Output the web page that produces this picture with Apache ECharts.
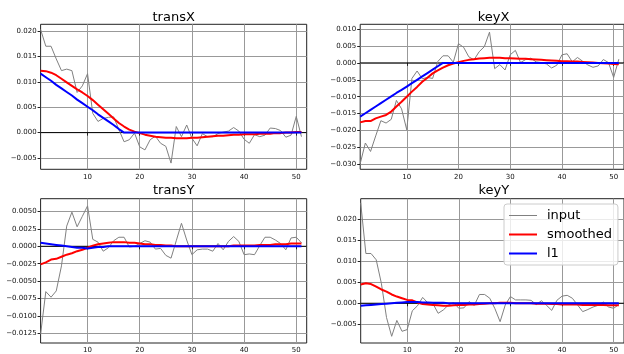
<!DOCTYPE html>
<html><head><meta charset="utf-8">
<script src="https://cdn.jsdelivr.net/npm/echarts@6/dist/echarts.min.js"></script>
<style>html,body{margin:0;padding:0;background:#fff}#c{width:624px;height:354px}</style>
</head><body><div id="c"></div>
<script>
const xs = [1,2,3,4,5,6,7,8,9,10,11,12,13,14,15,16,17,18,19,20,21,22,23,24,25,26,27,28,29,30,31,32,33,34,35,36,37,38,39,40,41,42,43,44,45,46,47,48,49,50,51];

const transXInput = [0.0203,0.0170,0.0170,0.0145,0.0122,0.0125,0.0122,0.0079,0.0092,0.0116,0.0038,0.0022,0.0028,0.0030,0.0031,0.0006,-0.0018,-0.0014,-0.0001,-0.0028,-0.0034,-0.0014,-0.0007,-0.0021,-0.0027,-0.0060,0.0012,-0.0008,0.0015,-0.0011,-0.0026,-0.0002,-0.0008,-0.0008,-0.0002,0.0001,0.0003,0.0010,0.0003,-0.0013,-0.0021,-0.0004,-0.0008,-0.0005,0.0009,0.0008,0.0004,-0.0009,-0.0005,0.0032,-0.0008];
const transXSmoothed = [0.0122,0.0121,0.0118,0.0113,0.0106,0.0099,0.0092,0.0085,0.0079,0.0072,0.0064,0.0055,0.0046,0.0037,0.0028,0.0019,0.0012,0.0006,0.0002,-0.0001,-0.0004,-0.0006,-0.0008,-0.0009,-0.0010,-0.0010,-0.0011,-0.0011,-0.0011,-0.0010,-0.0010,-0.0009,-0.0008,-0.0007,-0.0006,-0.0006,-0.0005,-0.0004,-0.0004,-0.0003,-0.0003,-0.0003,-0.0002,-0.0002,-0.0002,-0.0001,-0.0001,0,0,0.0001,0.0001];
const transXL1 = [0.0116,0.0109,0.0102,0.0094,0.0087,0.0080,0.0073,0.0065,0.0058,0.0051,0.0044,0.0036,0.0029,0.0022,0.0015,0.0007,0,0,0,0,0,0,0,0,0,0,0,0,0,0,0,0,0,0,0,0,0,0,0,0,0,0,0,0,0,0,0,0,0,0,0];

const keyXInput = [-0.0298,-0.0237,-0.0262,-0.0216,-0.0171,-0.0178,-0.0167,-0.0111,-0.0136,-0.0198,-0.0046,-0.0024,-0.0047,-0.0043,-0.0046,0.0004,0.0021,0.0021,0.0002,0.0057,0.0046,0.0018,0.0009,0.0033,0.0048,0.0091,-0.0017,-0.0005,-0.0021,0.0024,0.0037,0.0001,0.0010,0.0014,0.0003,0.0001,-0.0003,-0.0015,-0.0007,0.0024,0.0027,0.0003,0.0016,0.0005,-0.0006,-0.0013,-0.0009,0.0010,0.0001,-0.0043,0.0011];
const keyXSmoothed = [-0.0176,-0.0172,-0.0172,-0.0164,-0.0159,-0.0154,-0.0144,-0.0129,-0.0115,-0.0100,-0.0085,-0.0071,-0.0056,-0.0044,-0.0031,-0.0022,-0.0014,-0.0007,-0.0002,0.0002,0.0006,0.0009,0.0011,0.0013,0.0014,0.0015,0.0015,0.0015,0.0014,0.0014,0.0013,0.0012,0.0012,0.0011,0.0010,0.0009,0.0008,0.0007,0.0006,0.0005,0.0005,0.0004,0.0004,0.0003,0.0002,0.0001,0,-0.0001,-0.0002,-0.0003,-0.0004];
const keyXL1 = [-0.0159,-0.0149,-0.0139,-0.0129,-0.0119,-0.0109,-0.0099,-0.0089,-0.0080,-0.0070,-0.0060,-0.0050,-0.0040,-0.0030,-0.0020,-0.0010,0,0,0,0,0,0,0,0,0,0,0,0,0,0,0,0,0,0,0,0,0,0,0,0,0,0,0,0,0,0,0,0,0,0,0];

const transYInput = [-0.0126,-0.0065,-0.0073,-0.0064,-0.0028,0.0029,0.0049,0.0028,0.0043,0.0058,0.0010,0.0006,-0.0007,-0.0002,0.0008,0.0013,0.0013,-0.0001,0.0000,0.0004,0.0008,0.0006,-0.0004,-0.0003,-0.0013,-0.0017,0.0008,0.0033,0.0009,-0.0012,-0.0005,-0.0004,-0.0004,-0.0007,0.0004,-0.0005,0.0007,0.0014,0.0007,-0.0012,-0.0011,-0.0012,0.0001,0.0013,0.0013,0.0009,0.0004,-0.0005,0.0012,0.0013,0.0005];
const transYSmoothed = [-0.0026,-0.0023,-0.0019,-0.0018,-0.0015,-0.0012,-0.0010,-0.0007,-0.0005,-0.0002,0.0001,0.0003,0.0004,0.0005,0.0006,0.0006,0.0006,0.0005,0.0005,0.0004,0.0003,0.0003,0.0002,0.0002,0.0001,0.0001,0,0,0,0,0,0,0,0,0,0,0,0.0001,0.0001,0.0001,0.0001,0.0001,0.0002,0.0002,0.0002,0.0003,0.0003,0.0003,0.0004,0.0004,0.0004];
const transYL1 = [0.0005,0.0004,0.0003,0.0002,0.0001,0,-0.0001,-0.0002,-0.0002,-0.0003,-0.0002,-0.0001,-0.0001,0,0,0,0,0,0,0,0,0,0,0,0,0,0,0,0,0,0,0,0,0,0,0,0,0,0,0,0,0,0,0,0,0,0,0,0,0,0];

const keyYInput = [0.0240,0.0119,0.0119,0.0104,0.0048,-0.0034,-0.0079,-0.0041,-0.0067,-0.0063,-0.0018,-0.0006,0.0014,0.0001,-0.0001,-0.0024,-0.0016,-0.0004,0.0002,-0.0012,-0.0011,0.0004,-0.0005,0.0021,0.0021,0.0012,-0.0013,-0.0044,-0.0004,0.0016,0.0008,0.0008,0.0008,0.0007,-0.0003,0.0006,-0.0005,-0.0017,0.0007,0.0017,0.0019,0.0012,-0.0004,-0.0020,-0.0015,-0.0009,-0.0005,0.0003,-0.0009,-0.0012,-0.0003];
const keyYSmoothed = [0.0045,0.0048,0.0046,0.0040,0.0033,0.0028,0.0021,0.0016,0.0012,0.0008,0.0007,0.0002,-0.0002,-0.0003,-0.0004,-0.0005,-0.0006,-0.0006,-0.0005,-0.0004,-0.0004,-0.0003,-0.0003,-0.0002,-0.0001,0,0,0.0001,0.0001,0.0001,0,0,0,0,-0.0001,-0.0001,-0.0001,-0.0002,-0.0002,-0.0003,-0.0003,-0.0003,-0.0003,-0.0004,-0.0004,-0.0004,-0.0004,-0.0004,-0.0005,-0.0005,-0.0005];
const keyYL1 = [-0.0006,-0.0005,-0.0004,-0.0003,-0.0002,-0.0001,0,0.0001,0.0002,0.0003,0.0003,0.0003,0.0002,0.0002,0.0001,0.0001,0.0001,0,0,0,0,0,0,0,0,0,0,0,0,0,0,0,0,0,0,0,0,0,0,0,0,0,0,0,0,0,0,0,0,0,0];

const titles = ['transX','keyX','transY','keyY'];
const seriesNames = ['input','smoothed','l1'];
const seriesColors = ['#808080','#ff0000','#0000ff'];
const seriesWidths = [1, 2, 2];
const xTicks = [10,20,30,40,50];
const transXTicks = [-0.005,0,0.005,0.010,0.015,0.020];
const keyXTicks = [-0.030,-0.025,-0.020,-0.015,-0.010,-0.005,0,0.005,0.010];
const transYTicks = [-0.0125,-0.0100,-0.0075,-0.0050,-0.0025,0,0.0025,0.0050];
const keyYTicks = [-0.005,0,0.005,0.010,0.015,0.020];
const zeroLine = [[1,0],[52,0]];

const FONT = 'DejaVu Sans';
const grids = [
  {left:40.6, top:24.3, width:266.1, height:145},
  {left:360.2, top:24.3, width:266.8, height:145},
  {left:40.6, top:198.7, width:266.1, height:144.6},
  {left:360.7, top:198.7, width:266.3, height:144.6}
];
const yRanges = [[-0.00722,0.02132],[-0.03148,0.01142],[-0.01387,0.00683],[-0.0095,0.025]];
const yTickSets = [transXTicks, keyXTicks, transYTicks, keyYTicks];
const yDecimals = [3,3,4,3];
const dataSets = [
  [transXInput, transXSmoothed, transXL1],
  [keyXInput, keyXSmoothed, keyXL1],
  [transYInput, transYSmoothed, transYL1],
  [keyYInput, keyYSmoothed, keyYL1]
];

function fmt(v, d){
  const s = Math.abs(v).toFixed(d);
  return (v < -1e-12 ? '\u2212' : '') + s;
}

const xAxis = [], yAxis = [], series = [], graphic = [];
grids.forEach((g, i) => {
  xAxis.push({
    type:'value', gridIndex:i, min:1, max:52,
    axisLine:{show:false},
    axisTick:{show:true, length:3, lineStyle:{color:'#222', width:1}, customValues:xTicks},
    axisLabel:{fontFamily:FONT, fontSize:7, color:'#111', margin:4, customValues:xTicks, formatter:v=>String(v)},
    splitLine:{show:true, lineStyle:{color:'#999', width:1}}
  });
  const d = yDecimals[i];
  yAxis.push({
    type:'value', gridIndex:i, min:yRanges[i][0], max:yRanges[i][1],
    axisLine:{show:false},
    axisTick:{show:true, length:3, lineStyle:{color:'#222', width:1}, customValues:yTickSets[i]},
    axisLabel:{fontFamily:FONT, fontSize:7, color:'#111', margin:4, customValues:yTickSets[i], formatter:v=>fmt(v,d)},
    splitLine:{show:true, lineStyle:{color:'#999', width:1}}
  });
  series.push({
    name:'zero', type:'line', xAxisIndex:i, yAxisIndex:i, symbol:'none', silent:true,
    data: zeroLine, lineStyle:{color:'#000', width:1}, z:1
  });
  dataSets[i].forEach((arr, s) => {
    series.push({
      name:seriesNames[s], type:'line', xAxisIndex:i, yAxisIndex:i, symbol:'none', z:2+s,
      data: xs.map((x,k)=>[x, arr[k]]),
      lineStyle:{color:seriesColors[s], width:seriesWidths[s]}, itemStyle:{color:seriesColors[s]}
    });
  });
  graphic.push({
    type:'text', x: g.left + g.width/2, y: i < 2 ? 17.3 : 190.8,
    style:{text:titles[i], font:'13px "DejaVu Sans"', fill:'#000', align:'center', verticalAlign:'middle'}
  });
});

const chart = echarts.init(document.getElementById('c'), null, {renderer:'canvas'});
chart.setOption({
  animation:false,
  backgroundColor:'#fff',
  grid: grids.map(g => Object.assign({show:true, borderColor:'#222', borderWidth:1, backgroundColor:'transparent'}, g)),
  xAxis, yAxis, series, graphic,
  legend:{
    data: seriesNames.map((n, s) => ({
      name:n,
      icon: s === 0 ? 'path://M0,0H28V1H0Z' : 'path://M0,0H28V2H0Z',
      itemStyle:{color:seriesColors[s]}
    })),
    orient:'vertical', left:504, top:204,
    padding:[5,6,5,5], itemWidth:28, itemHeight:14, itemGap:6,
    backgroundColor:'rgba(255,255,255,0.8)', borderColor:'#cccccc', borderWidth:1, borderRadius:3,
    textStyle:{fontFamily:FONT, fontSize:13, color:'#000', padding:[0,0,0,5]}
  }
});
</script></body></html>
